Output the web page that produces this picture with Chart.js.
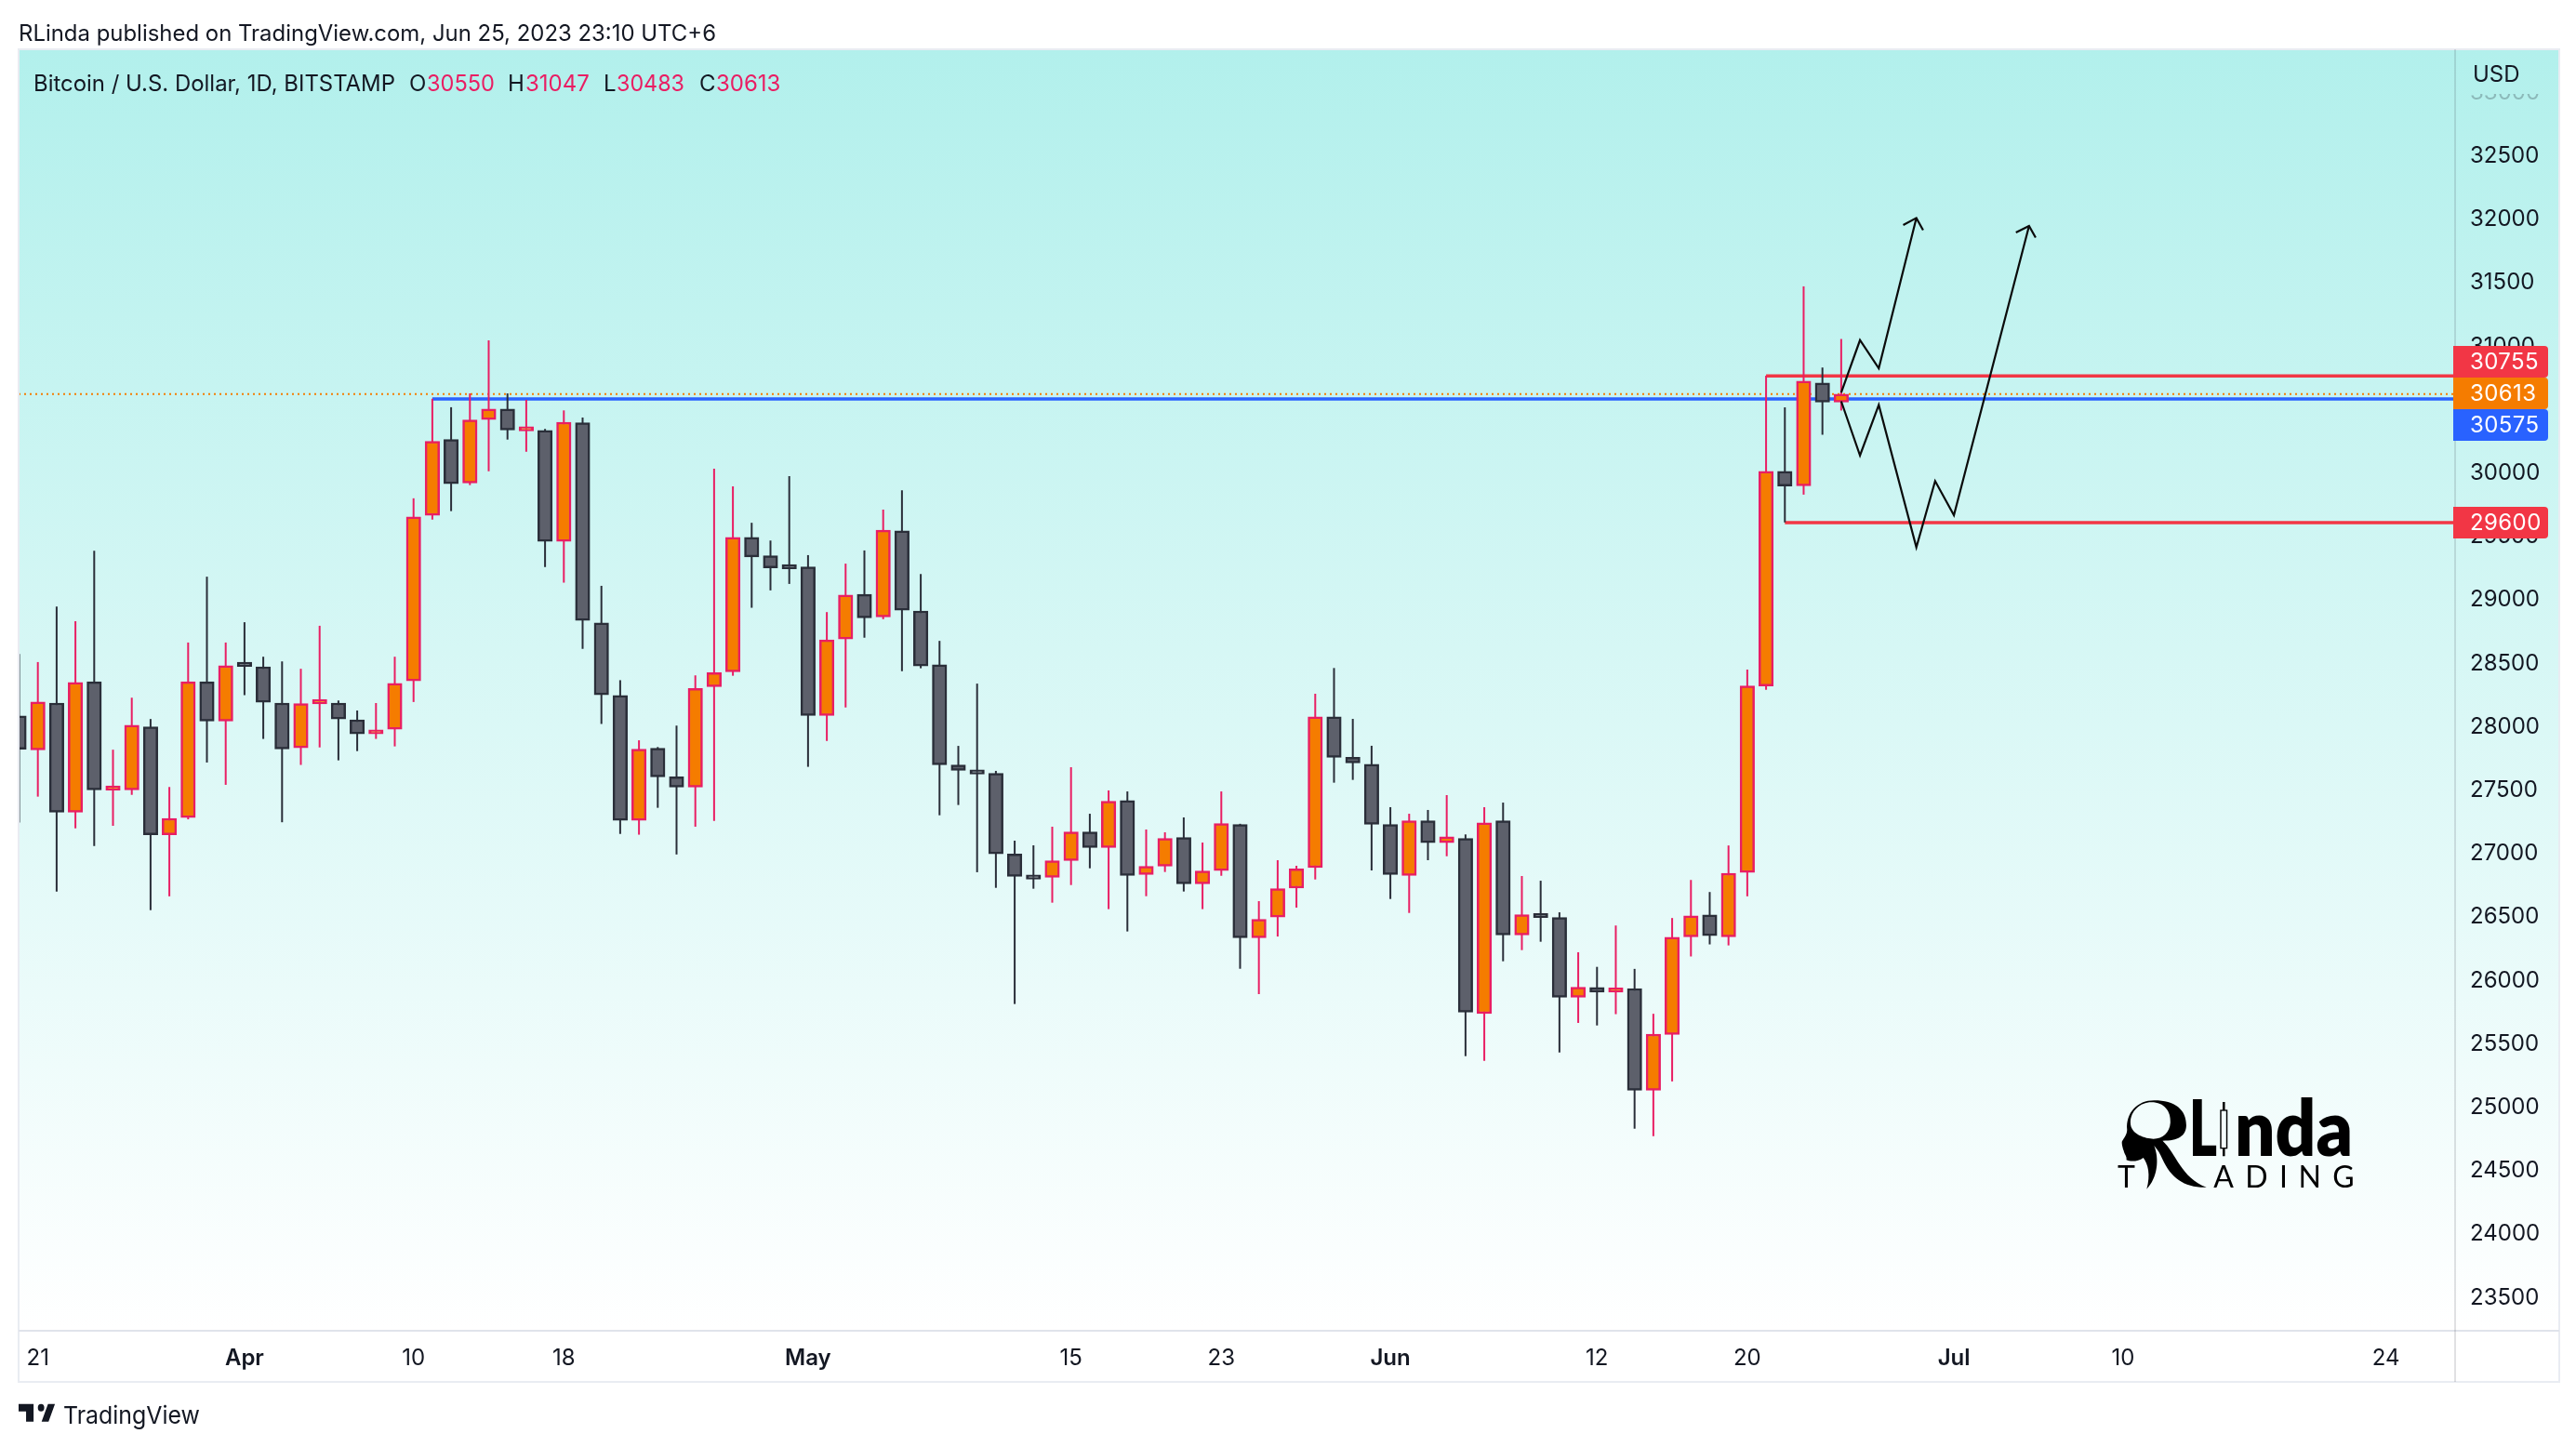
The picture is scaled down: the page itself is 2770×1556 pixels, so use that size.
<!DOCTYPE html>
<html>
<head>
<meta charset="utf-8">
<title>BTCUSD</title>
<style>html,body{margin:0;padding:0;background:#fff}canvas{display:block}</style>
<script src="https://cdn.jsdelivr.net/npm/chart.js@4/dist/chart.umd.min.js"></script>
</head>
<body>
<canvas id="c" width="2770" height="1556"></canvas>
<script>
const dates = ['03-20','03-21','03-22','03-23','03-24','03-25','03-26','03-27','03-28','03-29','03-30','03-31',
'04-01','04-02','04-03','04-04','04-05','04-06','04-07','04-08','04-09','04-10','04-11','04-12','04-13','04-14','04-15','04-16','04-17','04-18','04-19','04-20','04-21','04-22','04-23','04-24','04-25','04-26','04-27','04-28','04-29','04-30',
'05-01','05-02','05-03','05-04','05-05','05-06','05-07','05-08','05-09','05-10','05-11','05-12','05-13','05-14','05-15','05-16','05-17','05-18','05-19','05-20','05-21','05-22','05-23','05-24','05-25','05-26','05-27','05-28','05-29','05-30','05-31',
'06-01','06-02','06-03','06-04','06-05','06-06','06-07','06-08','06-09','06-10','06-11','06-12','06-13','06-14','06-15','06-16','06-17','06-18','06-19','06-20','06-21','06-22','06-23','06-24','06-25'];
const opens = [28076,27807,28177,27316,28345,27490,27492,27989,27139,27274,28345,28034,28475,28463,28177,27824,28170,28177,28045,27933,27970,28351,29656,30254,29912,30411,30495,30322,30327,29451,30386,28809,28236,27251,27820,27595,27514,28305,28423,29483,29338,29250,29251,28078,28681,29034,28855,29534,28903,28479,27688,27643,27622,26987,26815,26803,26935,27160,27038,27409,26825,26891,27116,26752,26855,27219,26327,26490,26718,26879,28069,27749,27695,27219,26818,27248,27075,27109,25728,27248,26349,26500,26486,25857,25935,25898,25926,25124,25564,26333,26507,26333,26841,28311,30003,29890,30701,30550];
const highs = [28564,28500,28937,28822,29378,27809,28219,28051,27515,28654,29173,28654,28814,28542,28505,28447,28786,28197,28118,28177,28542,29791,30576,30509,30618,31036,30618,30568,30338,30484,30428,29101,28357,27883,27830,27999,28395,30025,29885,29598,29458,29966,29343,28894,29276,29380,29702,29854,29194,28667,27839,28330,27642,27092,27055,27202,27671,27304,27488,27480,27180,27158,27275,27077,27480,27225,26615,26938,26894,28250,28453,28052,27840,27356,27304,27334,27451,27141,27356,27392,26813,26776,26527,26212,26097,26423,26081,25727,26482,26782,26687,27054,28441,30757,30508,31462,30822,31047];
const lows = [27234,27439,26690,27189,27049,27209,27453,26544,26653,27260,27708,27532,28239,27894,27237,27689,27827,27725,27798,27894,27835,28185,29623,29690,29895,30004,30254,30158,29249,29126,28604,28012,27145,27139,27351,26983,27202,27247,28392,28928,29065,29116,27674,27878,28142,28692,28838,28428,28451,27292,27373,26843,26720,25804,26713,26603,26742,26874,26552,26376,26654,26845,26691,26552,26815,26082,25882,26336,26564,26786,27549,27571,26857,26632,26522,26938,26969,25393,25356,26141,26229,26295,25422,25655,25635,25724,24821,24762,25194,26179,26274,26266,26653,28282,29601,29820,30292,30483];
const closes = [27812,28185,27316,28340,27492,27500,28003,27139,27268,28345,28034,28472,28465,28183,27815,28172,28190,28051,27933,27964,28332,29645,30240,29906,30408,30495,30330,30332,29451,30391,28828,28242,27251,27813,27595,27514,28291,28417,29483,29329,29242,29235,28078,28675,29029,28849,29540,28908,28468,27690,27645,27617,26987,26811,26789,26933,27160,27038,27402,26818,26889,27109,26752,26852,27226,26327,26471,26713,26869,28069,27749,27705,27221,26825,27248,27075,27123,25740,27233,26349,26508,26485,25857,25936,25898,25929,25124,25567,26330,26499,26342,26835,28311,30003,29888,30715,30550,30613];

const xTickIndex = [1,12,21,29,42,56,64,73,84,92,103,112,126];
const xTickLabels = ['21','Apr','10','18','May','15','23','Jun','12','20','Jul','10','24'];
const xTickBold = ['Apr','May','Jun','Jul'];
const yTickValues = [32500,32000,31500,31000,30500,30000,29500,29000,28500,28000,27500,27000,26500,26000,25500,25000,24500,24000,23500];

const blueLevel = 30575, blueFrom = 22;
const redUpper = 30755, redUpperFrom = 93;
const redLower = 29600, redLowerFrom = 94;
const lastClose = 30613;

const pathAIndex = [97,98,99,101];
const pathAPrice = [30625,31038,30816,32001];
const arrowAIndex = [100.3,101,101.36];
const arrowAPrice = [31945,32001,31905];
const pathBIndex = [97,98,99,101,102,103,107];
const pathBPrice = [30556,30129,30527,29405,29927,29658,31938];
const arrowBIndex = [106.3,107,107.35];
const arrowBPrice = [31886,31938,31846];

const X_MIN = -0.025, X_MAX = 129.68, Y_MIN = 23228, Y_MAX = 33331;
const UP_FILL='#F57C00', UP_LINE='#E91E63', DOWN_FILL='#5D606B', DOWN_LINE='#2A2E39';
const FONT='Inter, "Noto Sans", sans-serif';
const INK='#131722';

const pairs = (xs, ys) => xs.map((x,k)=>({x, y:ys[k]}));
const isUp = closes.map((c,k)=>c>=opens[k]);

const decor = {
  id:'decor',
  beforeDraw(chart){
    const c = chart.ctx, a = chart.chartArea;
    c.save();
    c.fillStyle='#fff'; c.fillRect(0,0,chart.width,chart.height);
    const g = c.createLinearGradient(0,a.top,0,a.bottom);
    g.addColorStop(0,'#B2F0EC'); g.addColorStop(1,'#FFFFFF');
    c.fillStyle=g; c.fillRect(a.left,a.top,2752-a.left,a.bottom-a.top);
    c.restore();
  },
  afterDraw(chart){
    const c = chart.ctx, a = chart.chartArea;
    const y = chart.scales.y;
    c.save();
    // frame
    c.strokeStyle='#E9ECF2'; c.lineWidth=2;
    c.strokeRect(20,53,2732,1433);
    c.strokeStyle='#E0E3EB';
    c.beginPath(); c.moveTo(20,a.bottom); c.lineTo(2752,a.bottom); c.stroke();
    c.strokeStyle='rgba(42,46,57,0.14)';
    c.beginPath(); c.moveTo(a.right,53); c.lineTo(a.right,1486); c.stroke();

    // faded top tick behind the USD mask
    c.save();
    c.beginPath(); c.rect(a.right+2,101,110,12); c.clip();
    c.fillStyle='rgba(19,23,34,0.25)'; c.font='24px '+FONT; c.textBaseline='middle'; c.textAlign='left';
    c.fillText('33000',a.right+16,y.getPixelForValue(33000)+1.5);
    c.restore();

    // header + legend
    c.textBaseline='middle'; c.textAlign='left';
    c.fillStyle=INK; c.font='24px '+FONT;
    c.fillText('RLinda published on TradingView.com, Jun 25, 2023 23:10 UTC+6',20,36.5,750);
    c.fillText('Bitcoin / U.S. Dollar, 1D, BITSTAMP',36,91,389);
    const ohlc=[['O',440,'30550',459],['H',546,'31047',565],['L',649,'30483',663],['C',752,'30613',770]];
    ohlc.forEach(([k,kx,v,vx])=>{
      c.fillStyle=INK; c.fillText(k,kx,91);
      c.fillStyle='#E91E63'; c.fillText(v,vx,91,73);
    });
    c.fillStyle=INK; c.font='24px '+FONT;
    c.fillText('USD',2659,81);

    // price labels
    const boxes=[[372,'#F23645','30755'],[406,'#F57C00','30613'],[440,'#2962FF','30575'],[545,'#F23645','29600']];
    c.letterSpacing='0.4px';
    boxes.forEach(([top,col,txt])=>{
      c.fillStyle=col;
      c.beginPath(); c.roundRect(a.right-2,top,102,34,[0,4,4,0]); c.fill();
      c.fillStyle='#fff'; c.font='24px '+FONT;
      c.fillText(txt,a.right+16,top+18);
    });
    c.letterSpacing='0px';

    // footer
    c.fillStyle=INK;
    c.save(); c.translate(20,1501.5); c.scale(1.15,1.36);
    c.fill(new Path2D('M14 6H0v6h7v8h7V6Zm14 14h-6.5l6-14H34l-6 14ZM21 12a3 3 0 1 0 0-6 3 3 0 0 0 0 6Z'));
    c.restore();
    c.font='26px '+FONT; c.fillText('TradingView',68,1523,147);

    // watermark
    c.fillStyle='#000'; c.strokeStyle='#000';
    c.font='800 84px Lato, '+FONT; c.textBaseline='alphabetic';
    c.fillText('L',2354,1243,30);
    c.fillText('nda',2403,1243,127);
    c.font='32px Lato, '+FONT; c.textAlign='center';
    [['T',2286.5],['A',2391],['D',2426.5],['I',2455.6],['N',2483.6],['G',2520]].forEach(([t,x])=>c.fillText(t,x,1277));
    c.save();
    c.translate(2200,1130); c.scale(1/2.75,1/3);
    const R=new Path2D('M240 255 C236 200 270 160 320 160 C382 160 415 190 415 240 C415 275 390 290 345 290 C385 330 400 410 475 440 C410 442 370 410 345 350 C338 332 330 318 320 306 C336 350 330 410 298 446 C310 400 302 365 288 345 C272 358 250 358 238 352 C240 340 232 335 230 322 C228 316 222 295 226 290 C232 280 240 268 240 255 Z M250 232 C250 195 278 166 312 166 C350 166 370 195 368 232 C366 265 345 284 318 284 C295 284 250 270 250 232 Z');
    c.fill(R,'evenodd');
    c.lineWidth=4;
    c.strokeRect(517,192,18,122);
    c.beginPath(); c.moveTo(526,165); c.lineTo(526,192); c.moveTo(526,314); c.lineTo(526,340); c.lineWidth=7; c.stroke();
    c.restore();
    c.restore();
  }
};

new Chart(document.getElementById('c'),{
  type:'bar',
  plugins:[decor],
  data:{
    datasets:[
      {type:'line',order:-1,data:pairs(pathAIndex,pathAPrice),borderColor:'#0b0b0b',borderWidth:2.2,pointRadius:0,tension:0,fill:false},
      {type:'line',order:-1,data:pairs(arrowAIndex,arrowAPrice),borderColor:'#0b0b0b',borderWidth:2.2,pointRadius:0,tension:0,fill:false},
      {type:'line',order:-1,data:pairs(pathBIndex,pathBPrice),borderColor:'#0b0b0b',borderWidth:2.2,pointRadius:0,tension:0,fill:false},
      {type:'line',order:-1,data:pairs(arrowBIndex,arrowBPrice),borderColor:'#0b0b0b',borderWidth:2.2,pointRadius:0,tension:0,fill:false},
      {label:'Body',order:0,grouped:false,
        data:dates.map((d,k)=>({x:k,y:[opens[k],closes[k]]})),
        backgroundColor:isUp.map(u=>u?UP_FILL:DOWN_FILL),
        borderColor:isUp.map(u=>u?UP_LINE:DOWN_LINE),
        borderWidth:2.5,borderSkipped:false,barThickness:15.5,minBarLength:4.5},
      {label:'Wick',order:1,grouped:false,
        data:dates.map((d,k)=>({x:k,y:[lows[k],highs[k]]})),
        backgroundColor:isUp.map(u=>u?UP_LINE:DOWN_LINE),
        borderWidth:0,borderSkipped:false,barThickness:2,inflateAmount:0},
      {type:'line',order:2,data:[{x:blueFrom,y:blueLevel},{x:X_MAX,y:blueLevel}],borderColor:'#2962FF',borderWidth:3.5,pointRadius:0},
      {type:'line',order:2,data:[{x:redUpperFrom,y:redUpper},{x:X_MAX,y:redUpper}],borderColor:'#F23645',borderWidth:3.5,pointRadius:0},
      {type:'line',order:2,data:[{x:redLowerFrom,y:redLower},{x:X_MAX,y:redLower}],borderColor:'#F23645',borderWidth:3.5,pointRadius:0},
      {type:'line',order:2,data:[{x:X_MIN,y:lastClose},{x:X_MAX,y:lastClose}],borderColor:'#F57C00',borderWidth:2,borderDash:[2,4],pointRadius:0}
    ]
  },
  options:{
    responsive:false,animation:false,devicePixelRatio:1,
    layout:{padding:{left:20,right:18,top:53,bottom:70}},
    plugins:{legend:{display:false},tooltip:{enabled:false},title:{display:false}},
    scales:{
      x:{type:'linear',offset:false,min:X_MIN,max:X_MAX,
        afterBuildTicks:s=>{s.ticks=xTickIndex.map(value=>({value}));},
        afterFit:s=>{s.height=55;},
        grid:{display:false,drawTicks:false,offset:false},border:{display:false},
        ticks:{autoSkip:false,maxRotation:0,padding:15,color:INK,
          callback:(v)=>xTickLabels[xTickIndex.indexOf(v)],
          font:c=>({family:FONT,size:24,weight:xTickBold.includes(xTickLabels[c.index])?'600':'400'})}
      },
      y:{type:'linear',position:'right',min:Y_MIN,max:Y_MAX,
        afterBuildTicks:s=>{s.ticks=yTickValues.map(value=>({value}));},
        afterFit:s=>{s.width=112;},
        grid:{display:false,drawTicks:false},border:{display:false},
        ticks:{padding:16,labelOffset:1.5,color:INK,crossAlign:'near',align:'center',
          callback:v=>String(v),font:{family:FONT,size:24}}
      }
    }
  }
});
</script>
</body>
</html>
